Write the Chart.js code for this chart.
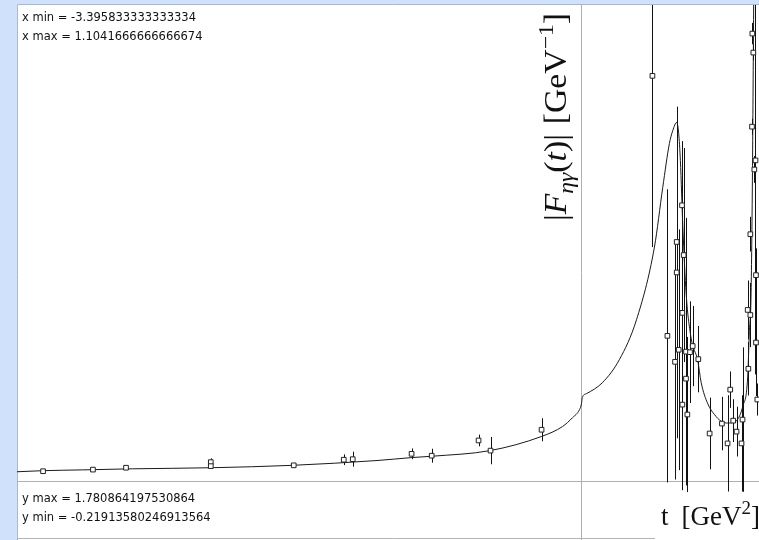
<!DOCTYPE html>
<html>
<head>
<meta charset="utf-8">
<script src="https://cdn.jsdelivr.net/npm/chart.js@4"></script>
<style>
  html, body { margin: 0; padding: 0; overflow: hidden; background: #cfe1fb; }
  #wrap { position: absolute; left: 0; top: 0; width: 770px; height: 545px; }
</style>
</head>
<body>
<div id="wrap"><canvas id="ffChart" width="770" height="545"></canvas></div>
<script>
try {

    // window limits
    const xMin = -3.395833333333334;
    const xMax = 1.1041666666666674;
    const yMin = -0.21913580246913564;
    const yMax = 1.780864197530864;

    // model curve |F(t)|
    const curveT = [-3.396, -3.24, -3.0, -2.7, -2.23, -1.74, -1.23, -1.02, -0.90, -0.55,
                    -0.24, -0.114, -0.054, -0.012, 0.0, 0.005, 0.03, 0.126, 0.228, 0.331,
                    0.439, 0.489, 0.529, 0.549, 0.573, 0.585, 0.595, 0.61, 0.63, 0.66,
                    0.70, 0.72, 0.76, 0.80, 0.84, 0.88, 0.91, 0.94, 0.97, 1.0,
                    1.01, 1.02, 1.028, 1.034, 1.04, 1.046];
    const curveF = [0.036, 0.040, 0.043, 0.047, 0.051, 0.060, 0.078, 0.089, 0.094, 0.115,
                    0.168, 0.205, 0.238, 0.268, 0.29, 0.313, 0.328, 0.369, 0.455, 0.604,
                    0.876, 1.099, 1.263, 1.311, 1.342, 1.30, 1.20, 0.95, 0.70, 0.535,
                    0.45, 0.37, 0.29, 0.25, 0.225, 0.218, 0.22, 0.232, 0.28, 0.39,
                    0.56, 0.69, 1.10, 1.60, 2.10, 2.50];

    // measured points with errors
    const dataT = [-3.239, -2.939, -2.740, -2.230, -2.230, -1.731, -1.430, -1.376, -1.022, -0.901,
                   -0.619, -0.547, -0.240,
                   0.427, 0.517, 0.563, 0.573, 0.573, 0.585, 0.605, 0.607, 0.607, 0.615,
                   0.629, 0.629, 0.637, 0.653, 0.669, 0.703,
                   0.771, 0.845, 0.879, 0.895, 0.913, 0.933, 0.963, 0.969, 1.004, 1.000,
                   1.016, 1.050, 1.050, 1.058, 1.028, 1.034, 1.026, 1.040, 1.016, 1.047];
    const dataF = [0.038, 0.044, 0.051, 0.072, 0.057, 0.060, 0.081, 0.083, 0.103, 0.096,
                   0.153, 0.115, 0.193,
                   1.516, 0.544, 0.447, 0.895, 0.781, 0.492, 1.032, 0.630, 0.287, 0.846,
                   0.485, 0.384, 0.250, 0.483, 0.506, 0.457,
                   0.179, 0.216, 0.142, 0.343, 0.227, 0.186, 0.142, 0.231, 0.421, 0.641,
                   0.622, 0.519, 0.771, 0.306, 1.674, 1.603, 1.326, 1.166, 0.924, 1.20];
    const dataErr = [0.005, 0.005, 0.004, 0.014, 0.010, 0.006, 0.020, 0.028, 0.020, 0.026,
                     0.022, 0.051, 0.043,
                     0.64, 0.548, 0.44, 0.45, 0.62, 0.45, 0.24, 0.55, 0.32, 0.40,
                     0.50, 0.30, 0.29, 0.19, 0.15, 0.124,
                     0.134, 0.10, 0.18, 0.068, 0.08, 0.093, 0.18, 0.27, 0.10, 0.11,
                     0.12, 0.20, 0.10, 0.06, 0.04, 0.03, 0.03, 0.05, 0.065, 0.80];

    const frameBlue = '#cfe1fb';

    // draws a run of text pieces (italic / sub / sup) starting at 0,0
    function drawRich(ctx, parts, size) {
      let x = 0;
      parts.forEach(p => {
        const small = p.sub || p.sup;
        const fs = small ? size * 0.7 : size;
        ctx.font = (p.it ? 'italic ' : '') + fs + 'px "Liberation Serif"';
        let dy = 0;
        if (p.sub) dy = size * 0.22;
        if (p.sup) dy = -size * 0.42;
        if (p.gap) { x += p.gap; return; }
        ctx.fillText(p.t, x, dy);
        x += ctx.measureText(p.t).width;
      });
      return x;
    }

    const yTitle = [
      { t: '|' }, { t: 'F', it: true }, { t: 'ηγ', it: true, sub: true },
      { t: '(' }, { t: 't', it: true }, { t: ')' }, { t: '|' }, { gap: 9 },
      { t: '[GeV' }, { t: '−1', sup: true }, { t: ']' }
    ];
    const xTitle = [
      { t: 't' }, { gap: 13 }, { t: '[GeV' }, { t: '2', sup: true }, { t: ']' }
    ];

    const framePlugin = {
      id: 'frame',
      beforeDraw(chart) {
        const ctx = chart.ctx;
        ctx.save();
        ctx.fillStyle = frameBlue;
        ctx.fillRect(0, 0, chart.width, chart.height);
        ctx.fillStyle = '#ffffff';
        ctx.fillRect(17, 4, chart.width - 17, chart.height - 4);
        ctx.strokeStyle = '#a9b8cc';
        ctx.lineWidth = 1;
        ctx.beginPath();
        ctx.moveTo(17.5, chart.height);
        ctx.lineTo(17.5, 4.5);
        ctx.lineTo(chart.width, 4.5);
        ctx.stroke();
        ctx.strokeStyle = '#b4b4b4';
        ctx.beginPath();
        ctx.moveTo(17, 538.5);
        ctx.lineTo(chart.width, 538.5);
        ctx.stroke();
        ctx.restore();
      },
      beforeDatasetsDraw(chart) {
        const ctx = chart.ctx;
        const xs = chart.scales.x, ys = chart.scales.y;
        const a = chart.chartArea;
        ctx.save();
        ctx.beginPath();
        ctx.rect(a.left, a.top, a.right - a.left, a.bottom - a.top);
        ctx.clip();
        // axes through the origin
        ctx.strokeStyle = '#b0b0b0';
        ctx.lineWidth = 1;
        const x0 = Math.round(xs.getPixelForValue(0)) + 0.5;
        const y0 = Math.round(ys.getPixelForValue(0)) + 0.5;
        ctx.beginPath();
        ctx.moveTo(x0, a.top); ctx.lineTo(x0, a.bottom);
        ctx.moveTo(a.left, y0); ctx.lineTo(a.right, y0);
        ctx.stroke();
        // error bars
        ctx.strokeStyle = '#111111';
        ctx.beginPath();
        dataT.forEach((t, i) => {
          const px = Math.round(xs.getPixelForValue(t)) + 0.5;
          ctx.moveTo(px, ys.getPixelForValue(dataF[i] + dataErr[i]));
          ctx.lineTo(px, ys.getPixelForValue(dataF[i] - dataErr[i]));
        });
        ctx.stroke();
        ctx.restore();
      },
      afterDraw(chart) {
        const ctx = chart.ctx;
        ctx.save();
        ctx.fillStyle = '#111111';
        ctx.font = '11.5px "DejaVu Sans"';
        ctx.textBaseline = 'middle';
        ctx.fillText('x min = ' + String(xMin), 22, 18);
        ctx.fillText('x max = ' + String(xMax), 22, 37);
        ctx.fillText('y max = ' + String(yMax), 22, 499);
        ctx.fillText('y min = ' + String(yMin), 22, 518);

        // x axis title box
        ctx.fillStyle = '#ffffff';
        ctx.fillRect(655, 496, chart.width - 655, chart.height - 496);
        ctx.fillStyle = '#111111';
        ctx.textBaseline = 'alphabetic';
        ctx.save();
        ctx.translate(661, 525);
        drawRich(ctx, xTitle, 27);
        ctx.restore();

        // y axis title, rotated and stretched to its run length
        ctx.save();
        ctx.globalAlpha = 0;
        const natural = drawRich(ctx, yTitle, 31);
        ctx.globalAlpha = 1;
        ctx.translate(566, 221);
        ctx.rotate(-Math.PI / 2);
        ctx.scale(208 / natural, 1);
        drawRich(ctx, yTitle, 31);
        ctx.restore();
        ctx.restore();
      }
    };

    const ctx = document.getElementById('ffChart').getContext('2d');
    new Chart(ctx, {
      data: {
        datasets: [
          {
            type: 'scatter',
            label: 'data',
            data: dataT.map((t, i) => ({ x: t, y: dataF[i] })),
            pointStyle: 'rect',
            pointRadius: 3.3,
            borderColor: '#222222',
            borderWidth: 1,
            backgroundColor: '#ffffff'
          },
          {
            type: 'line',
            label: 'model',
            data: curveT.map((t, i) => ({ x: t, y: curveF[i] })),
            borderColor: '#1a1a1a',
            borderWidth: 1,
            pointRadius: 0,
            cubicInterpolationMode: 'monotone',
            fill: false
          }
        ]
      },
      options: {
        responsive: false,
        devicePixelRatio: 1,
        animation: false,
        layout: { padding: { left: 17, top: 4, right: 5, bottom: 4 } },
        plugins: { legend: { display: false }, tooltip: { enabled: false } },
        scales: {
          x: { type: 'linear', min: xMin, max: xMax, display: false },
          y: { type: 'linear', min: yMin, max: yMax, display: false }
        }
      },
      plugins: [framePlugin]
    });

} catch (e) {
    console.log(e);
}
</script>
</body>
</html>
